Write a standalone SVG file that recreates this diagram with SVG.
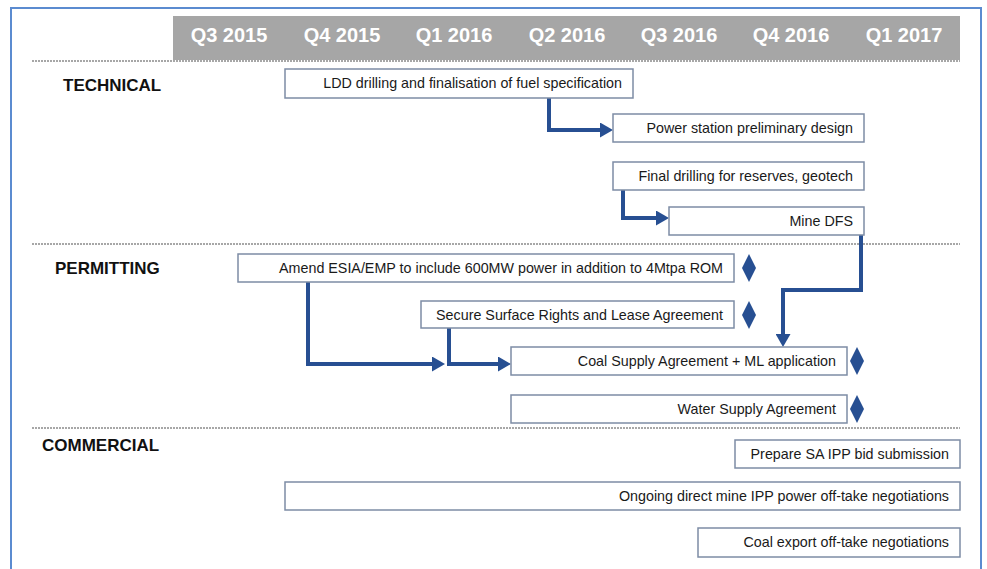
<svg xmlns="http://www.w3.org/2000/svg" width="987" height="569" viewBox="0 0 987 569">
<style>
.q{font-family:"Liberation Sans",Arial,sans-serif;font-size:20px;font-weight:bold;fill:#ffffff;text-anchor:middle}
.sec{font-family:"Liberation Sans",Arial,sans-serif;font-size:17px;font-weight:bold;fill:#111111}
.box{fill:#ffffff;stroke:#7D8CA5;stroke-width:1.5}
.t{font-family:"Liberation Sans",Arial,sans-serif;font-size:14.3px;fill:#1a1a1a;text-anchor:end}
.dash{stroke:#8a8a8a;stroke-width:1.5;stroke-dasharray:2 1;fill:none}
.con{fill:none;stroke:#274F92;stroke-width:4;stroke-linejoin:miter;marker-end:url(#ah)}
.dia{fill:#274F92}
</style>
<defs>
<marker id="ah" viewBox="0 0 13 15" markerWidth="13" markerHeight="15" refX="0" refY="7.5" orient="auto" markerUnits="userSpaceOnUse">
<path d="M0,0 L13,7.5 L0,15 Z" fill="#274F92"/>
</marker>
</defs>
<rect x="0" y="0" width="987" height="569" fill="#ffffff"/>
<rect x="11" y="8" width="970" height="600" fill="none" stroke="#5B8BD0" stroke-width="2"/>
<g id="header">
<rect x="173" y="16" width="787" height="44" fill="#A6A6A6"/>
<text class="q" x="229" y="42">Q3 2015</text>
<text class="q" x="342" y="42">Q4 2015</text>
<text class="q" x="454" y="42">Q1 2016</text>
<text class="q" x="567" y="42">Q2 2016</text>
<text class="q" x="679" y="42">Q3 2016</text>
<text class="q" x="791" y="42">Q4 2016</text>
<text class="q" x="904" y="42">Q1 2017</text>
</g>
<g id="separators">
<line class="dash" x1="32" y1="61" x2="960" y2="61"/>
<line class="dash" x1="32" y1="244" x2="960" y2="244"/>
<line class="dash" x1="32" y1="428" x2="960" y2="428"/>
</g>
<g id="sections">
<text class="sec" x="63" y="91">TECHNICAL</text>
<text class="sec" x="55" y="274">PERMITTING</text>
<text class="sec" x="42" y="451">COMMERCIAL</text>
</g>
<g id="connectors">
<path class="con" d="M549,98 V130 H600"/>
<path class="con" d="M623,190 V218 H656"/>
<path class="con" d="M861,235 V290 H783 V334"/>
<path class="con" d="M308,282 V364 H432"/>
<path class="con" d="M449,328 V364 H498"/>
</g>
<g id="ldd"><rect class="box" x="285" y="69" width="348" height="29"/><text class="t" x="622" y="88">LDD drilling and finalisation of fuel specification</text></g>
<g id="power"><rect class="box" x="613" y="114" width="251" height="28"/><text class="t" x="853" y="133">Power station preliminary design</text></g>
<g id="final"><rect class="box" x="613" y="162" width="251" height="28"/><text class="t" x="853" y="181">Final drilling for reserves, geotech</text></g>
<g id="mine"><rect class="box" x="669" y="207" width="195" height="28"/><text class="t" x="853" y="226">Mine DFS</text></g>
<g id="amend"><rect class="box" x="238" y="254" width="496" height="28"/><text class="t" x="723" y="273">Amend ESIA/EMP to include 600MW power in addition to 4Mtpa ROM</text></g>
<g id="secure"><rect class="box" x="421" y="301" width="313" height="27"/><text class="t" x="723" y="320">Secure Surface Rights and Lease Agreement</text></g>
<g id="coal"><rect class="box" x="511" y="347" width="336" height="28"/><text class="t" x="836" y="366">Coal Supply Agreement + ML application</text></g>
<g id="water"><rect class="box" x="511" y="395" width="336" height="28"/><text class="t" x="836" y="414">Water Supply Agreement</text></g>
<g id="prepare"><rect class="box" x="735" y="440" width="225" height="28"/><text class="t" x="949" y="459">Prepare SA IPP bid submission</text></g>
<g id="ongoing"><rect class="box" x="285" y="482" width="675" height="28"/><text class="t" x="949" y="501">Ongoing direct mine IPP power off-take negotiations</text></g>
<g id="export"><rect class="box" x="698" y="528" width="262" height="29"/><text class="t" x="949" y="547">Coal export off-take negotiations</text></g>
<g id="milestones">
<path class="dia" d="M749,254 L756,268 L749,282 L742,268 Z"/>
<path class="dia" d="M749,301 L756,315 L749,329 L742,315 Z"/>
<path class="dia" d="M857,347 L864,361 L857,375 L850,361 Z"/>
<path class="dia" d="M857,395 L864,409 L857,423 L850,409 Z"/>
</g>
</svg>
